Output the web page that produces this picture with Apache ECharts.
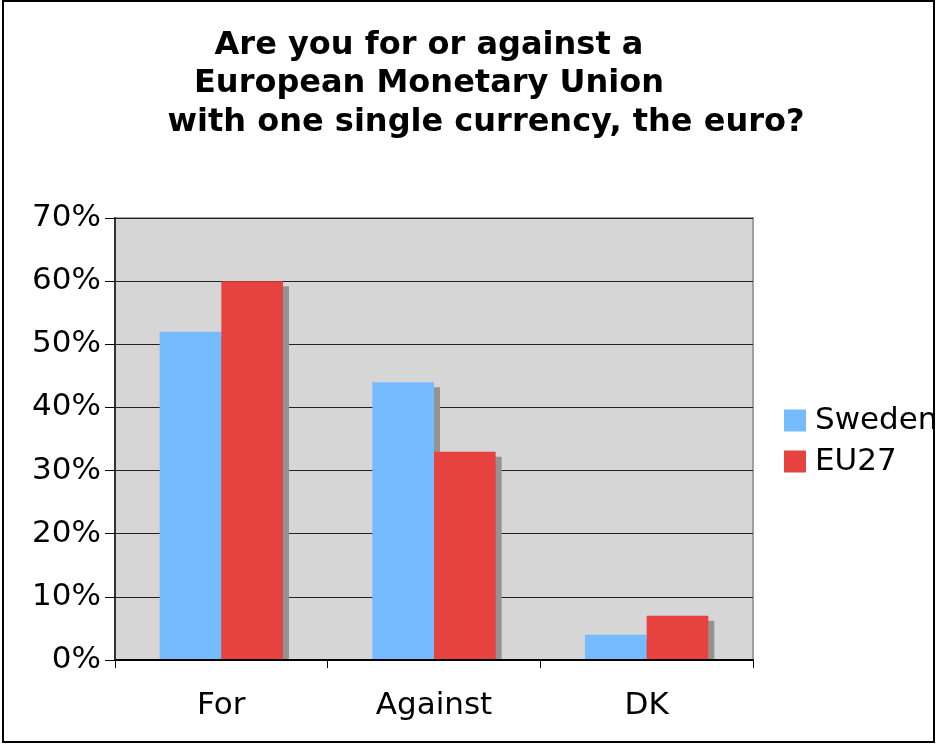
<!DOCTYPE html>
<html><head><meta charset="utf-8">
<script src="https://cdn.jsdelivr.net/npm/echarts@6/dist/echarts.min.js"></script>
<style>html,body{margin:0;padding:0;background:#fff}#c{width:936px;height:744px}</style>
</head><body><div id="c"></div>
<script>
var categories = ['For', 'Against', 'DK'];
var sweden = [52, 44, 4];
var eu27 = [60, 33, 7];
var titleLines = ['Are you for or against a', 'European Monetary Union', 'with one single currency, the euro?'];

var chart = echarts.init(document.getElementById('c'), null, {renderer: 'canvas'});
var FONT = 'DejaVu Sans, Verdana, sans-serif';
chart.setOption({
  backgroundColor: '#ffffff',
  animation: false,
  graphic: [
    {type: 'rect', shape: {x: 3, y: 1, width: 931, height: 741}, style: {fill: 'none', stroke: '#000', lineWidth: 2}, z: 100},
    {type: 'rect', shape: {x: 116, y: 661, width: 645, height: 8}, style: {fill: '#fff'}, z: 3},
    {type: 'text', x: 429, y: 46, style: {text: titleLines[0], font: 'bold 32px ' + FONT, fill: '#000', textAlign: 'center', textVerticalAlign: 'middle'}},
    {type: 'text', x: 429, y: 84, style: {text: titleLines[1], font: 'bold 32px ' + FONT, fill: '#000', textAlign: 'center', textVerticalAlign: 'middle'}},
    {type: 'text', x: 486, y: 123, style: {text: titleLines[2], font: 'bold 32px ' + FONT, fill: '#000', textAlign: 'center', textVerticalAlign: 'middle'}}
  ],
  legend: {
    orient: 'vertical',
    left: 779,
    top: 400,
    itemWidth: 22,
    itemHeight: 22,
    itemGap: 10,
    icon: 'rect',
    textStyle: {fontFamily: FONT, fontSize: 31, color: '#000', padding: [0, 0, 0, 4]},
    data: ['Sweden', 'EU27']
  },
  grid: {
    left: 115, right: 183, top: 218, bottom: 84,
    show: true, backgroundColor: '#d6d6d6', borderColor: '#a0a0a0', borderWidth: 2
  },
  xAxis: {
    type: 'category',
    data: categories,
    z: 5,
    axisLine: {lineStyle: {color: '#000', width: 2}},
    axisTick: {show: true, length: 8, lineStyle: {color: '#000', width: 1}},
    axisLabel: {fontFamily: FONT, fontSize: 31, color: '#000', margin: 30}
  },
  yAxis: {
    type: 'value',
    min: 0, max: 70, interval: 10,
    axisLine: {show: true, lineStyle: {color: '#333', width: 2}},
    axisTick: {show: true, length: 10, lineStyle: {color: '#000'}},
    axisLabel: {fontFamily: FONT, fontSize: 31, color: '#000', margin: 14, formatter: '{value}%'},
    splitLine: {lineStyle: {color: '#222', width: 1}}
  },
  series: [
    {name: 'Sweden', type: 'bar', data: sweden, barGap: '0%', barCategoryGap: '42%',
      itemStyle: {color: '#77bbff', shadowColor: '#939393', shadowOffsetX: 6, shadowOffsetY: 5, shadowBlur: 0}},
    {name: 'EU27', type: 'bar', data: eu27,
      itemStyle: {color: '#e64340', shadowColor: '#939393', shadowOffsetX: 6, shadowOffsetY: 5, shadowBlur: 0}}
  ]
});
</script></body></html>
